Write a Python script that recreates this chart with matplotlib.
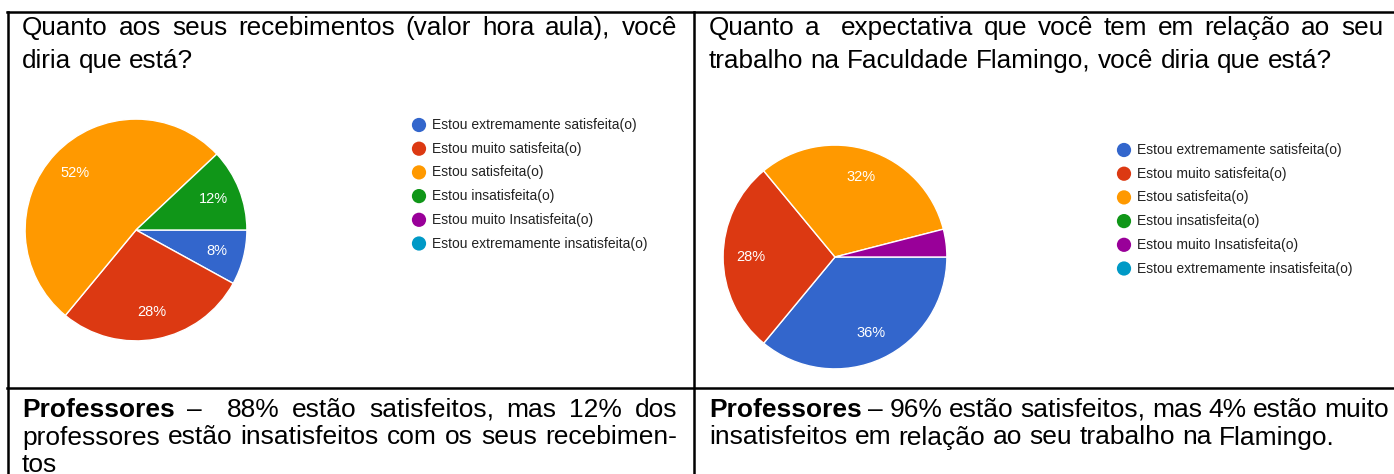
import matplotlib
matplotlib.use('Agg')
import matplotlib.pyplot as plt

# -----------------------------------------------------------------------
# Data
# -----------------------------------------------------------------------
categories = [
    "Estou extremamente satisfeita(o)",
    "Estou muito satisfeita(o)",
    "Estou satisfeita(o)",
    "Estou insatisfeita(o)",
    "Estou muito Insatisfeita(o)",
    "Estou extremamente insatisfeita(o)",
]
colors = ["#3366cc", "#dc3912", "#ff9900", "#109618", "#990099", "#0099c6"]

pay_values = [8, 28, 52, 12, 0, 0]
expect_values = [36, 28, 32, 0, 4, 0]

pay_title = ["Quanto aos seus recebimentos (valor hora aula), você",
             "diria que está?"]
expect_title = ["Quanto a  expectativa que você tem em relação ao seu",
                "trabalho na Faculdade Flamingo, você diria que está?"]

pay_note = ["Professores –  88% estão satisfeitos, mas 12% dos",
            "professores estão insatisfeitos com os seus recebimen-",
            "tos"]
expect_note = ["Professores – 96% estão satisfeitos, mas 4% estão muito",
               "insatisfeitos em relação ao seu trabalho na Flamingo."]

W, H = 1394, 474
FONT = "Liberation Sans"

fig = plt.figure(figsize=(W / 100, H / 100), dpi=100)
ov = fig.add_axes([0, 0, 1, 1])
ov.set_xlim(0, W)
ov.set_ylim(H, 0)
ov.axis('off')
renderer = fig.canvas.get_renderer()


def text_width(s, size, weight='normal'):
    t = ov.text(0, 0, s, fontsize=size, family=FONT, fontweight=weight)
    w = t.get_window_extent(renderer).width
    t.remove()
    return w


def fit_size(s, width):
    # font size that makes the plain line span the given pixel width
    return 10 * width / text_width(s, 10)


def put_line(line, x0, x1, y, size, justify, bold_first=0):
    words = line.split(' ')
    weights = ['bold' if i < bold_first else 'normal' for i in range(len(words))]
    widths = [text_width(w, size, wt) if w else 0 for w, wt in zip(words, weights)]
    space = text_width("a a", size) - text_width("aa", size)
    if justify and len(words) > 1:
        gap = (x1 - x0 - sum(widths)) / (len(words) - 1)
    else:
        gap = space
    x = x0
    for w, wt, wd in zip(words, weights, widths):
        if w:
            ov.text(x, y, w, fontsize=size, family=FONT, fontweight=wt,
                    va='baseline', ha='left', color='black')
        x += wd + gap


def put_block(lines, x0, x1, y0, dy, size, bold_first=0):
    for i, line in enumerate(lines):
        last = i == len(lines) - 1
        put_line(line, x0, x1, y0 + i * dy, size, justify=not last,
                 bold_first=bold_first if i == 0 else 0)


# -----------------------------------------------------------------------
# Table frame
# -----------------------------------------------------------------------
lw = 1.8
ov.plot([8, 8], [12, H], color='black', lw=lw)
ov.plot([694, 694], [12, H], color='black', lw=lw)
ov.plot([7, W], [12, 12], color='black', lw=lw)
ov.plot([7, W], [388, 388], color='black', lw=lw)

# -----------------------------------------------------------------------
# Titles and notes
# -----------------------------------------------------------------------
title_size = fit_size(pay_title[0], 630)
note_size = fit_size(pay_note[1], 650)

put_block(pay_title, 22, 677, 35, 33, title_size)
put_block(expect_title, 709, 1383, 35, 33, title_size)
put_block(pay_note, 22, 677, 417, 27.5, note_size, bold_first=1)
put_block(expect_note, 709, 1389, 417, 27.5, note_size, bold_first=1)

legend_size = fit_size(categories[0], 204)


# -----------------------------------------------------------------------
# Pies
# -----------------------------------------------------------------------
def draw_pie(values, cx, cy, r, legend_x, legend_y):
    ax = fig.add_axes([(cx - r) / W, (H - cy - r) / H, 2 * r / W, 2 * r / H])
    shown = [(v, c) for v, c in zip(values, colors) if v > 0]
    vals = [v for v, _ in shown]

    def fmt(p):
        return f"{p:.0f}%" if p >= 5 else ""

    _, _, autotexts = ax.pie(vals, colors=[c for _, c in shown], startangle=0,
                             counterclock=False, autopct=fmt, pctdistance=0.75,
                             wedgeprops=dict(edgecolor='white', linewidth=1.0))
    for t in autotexts:
        t.set_color('white')
        t.set_fontsize(10.5)
        t.set_family(FONT)
    ax.set_xlim(-1.01, 1.01)
    ax.set_ylim(-1.01, 1.01)
    ax.axis('off')

    for i, (label, col) in enumerate(zip(categories, colors)):
        y = legend_y + i * 23.7
        ov.scatter([legend_x], [y], s=105, color=col, edgecolors='none', zorder=3)
        ov.text(legend_x + 13, y, label, fontsize=legend_size, family=FONT,
                va='center', ha='left', color='#222222')


draw_pie(pay_values, 136, 230, 112, 419, 125)
draw_pie(expect_values, 835, 257, 113, 1124, 150)

fig.savefig("out.png", dpi=100)
